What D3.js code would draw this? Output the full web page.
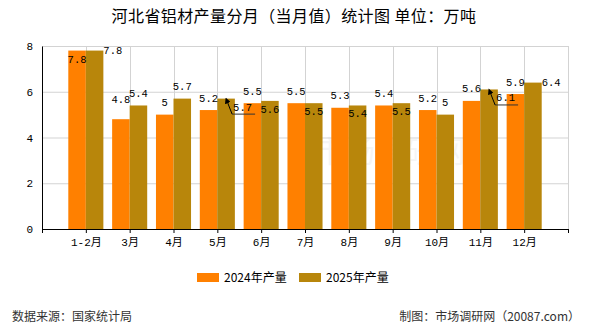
<!DOCTYPE html>
<html><head><meta charset="utf-8">
<script src="https://cdn.jsdelivr.net/npm/d3@7"></script>
<style>body{margin:0;background:#fff}svg{display:block}</style>
</head><body><svg id="c" width="590" height="330"></svg>
<script>
const categories = ["1-2月","3月","4月","5月","6月","7月","8月","9月","10月","11月","12月"];
const values2024 = [7.8,4.8,5,5.2,5.5,5.5,5.3,5.4,5.2,5.6,5.9];
const values2025 = [7.8,5.4,5.7,5.7,5.6,5.5,5.4,5.5,5,6.1,6.4];
const yTicks = [0,2,4,6,8];
const seriesNames = ["2024年产量","2025年产量"];
const labelMode2024 = ["in","high","above","above","above","above","above","above","above","above","above"];
const labelMode2025 = ["right","above","above","callout","in","in","in","in","above","callout","right"];

const colors = ["#FF8000","#B8860B"];
const svg = d3.select("#c");
const L = 42, R = 568, T = 46, B = 229;
const x = d3.scaleLinear().domain([0, categories.length + 1]).range([L, R]);
const y = d3.scaleLinear().domain([0, 8]).range([B, T]);
const bw = x(0.4) - x(0);
const mono = "'Liberation Mono','Noto Sans CJK SC',monospace";
const cjk = "'Noto Sans CJK SC',sans-serif";

svg.append("defs").append("marker").attr("id","arr").attr("viewBox","0 0 10 10")
  .attr("refX",1).attr("refY",5).attr("markerWidth",6).attr("markerHeight",6).attr("orient","auto-start-reverse")
  .append("path").attr("d","M0,0 L10,5 L0,10 z").attr("fill","#000");

// watermark
svg.append("text").attr("x",390).attr("y",162).attr("text-anchor","middle")
  .attr("font-family",cjk).attr("font-size",30).attr("fill","#000").attr("opacity",0.035).text("市场调研网");

// grid
svg.append("g").selectAll("line").data(yTicks.filter(d=>d>0)).join("line")
  .attr("x1",L).attr("x2",R).attr("y1",d=>y(d)+0.5).attr("y2",d=>y(d)+0.5).attr("stroke","#d3d3d3");
svg.append("g").selectAll("line").data(d3.range(1, categories.length + 2)).join("line")
  .attr("x1",d=>Math.round(x(d))+0.5).attr("x2",d=>Math.round(x(d))+0.5).attr("y1",T).attr("y2",B).attr("stroke","#d3d3d3");

// bars
const series = [values2024, values2025];
series.forEach((vals, s) => {
  svg.append("g").selectAll("rect").data(vals).join("rect")
    .attr("x",(d,i)=> x(i+1) - bw + s*bw)
    .attr("y",d=>y(d)).attr("width",bw).attr("height",d=>B - y(d))
    .attr("fill",colors[s]);
});

// labels
function addLabels(vals, modes, s){
  const g = svg.append("g").attr("font-family",mono).attr("font-size",10.5).attr("fill","#000");
  vals.forEach((v,i)=>{
    const left = x(i+1) - bw + s*bw, cx = left + bw/2, top = y(v);
    const m = modes[i];
    let tx = cx, ty, anchor = "middle";
    if (m === "in") ty = top + 12;
    else if (m === "above") ty = top - 8.5;
    else if (m === "high") ty = top - 16;
    else if (m === "right") { tx = left + bw; ty = top + 3.5; anchor = "start"; }
    else if (m === "callout") {
      g.append("polyline").attr("points",[[cx+6,top+15.5],[cx+29,top+15.5]].map(p=>p.join(",")).join(" "))
        .attr("fill","none").attr("stroke","#333").attr("stroke-width",1);
      g.append("line").attr("x1",cx+6).attr("y1",top+15.5).attr("x2",cx+1.5).attr("y2",top+4)
        .attr("stroke","#000").attr("stroke-width",1).attr("marker-end","url(#arr)");
      tx = cx + 7; ty = top + 12; anchor = "start";
    }
    g.append("text").attr("x",tx).attr("y",ty).attr("text-anchor",anchor).text(v);
  });
}
addLabels(values2024, labelMode2024, 0);
addLabels(values2025, labelMode2025, 1);

// axes
const xAxis = d3.axisBottom(x).tickValues(d3.range(0, categories.length + 2))
  .tickFormat(d => categories[d-1] || "").tickSize(4).tickSizeOuter(0).tickPadding(5);
const gx = svg.append("g").attr("transform",`translate(0,${B})`).call(xAxis);
gx.selectAll("text").attr("font-family",mono).attr("font-size",11).attr("fill","#000");
gx.selectAll("line,path").attr("stroke","#000");

const yAxis = d3.axisLeft(y).tickValues(yTicks).tickSize(0).tickPadding(9);
const gy = svg.append("g").attr("transform",`translate(${L},0)`).call(yAxis);
gy.selectAll("text").attr("font-family",mono).attr("font-size",11).attr("fill","#000");
gy.selectAll("path").attr("stroke","#000");

// title
svg.append("text").attr("x",294).attr("y",22).attr("text-anchor","middle")
  .attr("font-family",cjk).attr("font-size",16).attr("letter-spacing",0.4).attr("fill","#000")
  .text("河北省铝材产量分月（当月值）统计图 单位：万吨");

// legend
const lx = [197, 299];
seriesNames.forEach((n,s)=>{
  svg.append("rect").attr("x",lx[s]).attr("y",273).attr("width",22).attr("height",9).attr("fill",colors[s]);
  svg.append("text").attr("x",lx[s]+27).attr("y",282).attr("font-family",cjk).attr("font-size",12).attr("fill","#000").text(n);
});

// footer
svg.append("text").attr("x",12).attr("y",321).attr("font-family",cjk).attr("font-size",12).attr("fill","#333").text("数据来源：国家统计局");
svg.append("text").attr("x",580).attr("y",321).attr("text-anchor","end").attr("font-family",cjk).attr("font-size",12).attr("fill","#333").text("制图：市场调研网（20087.com）");
</script></body></html>
